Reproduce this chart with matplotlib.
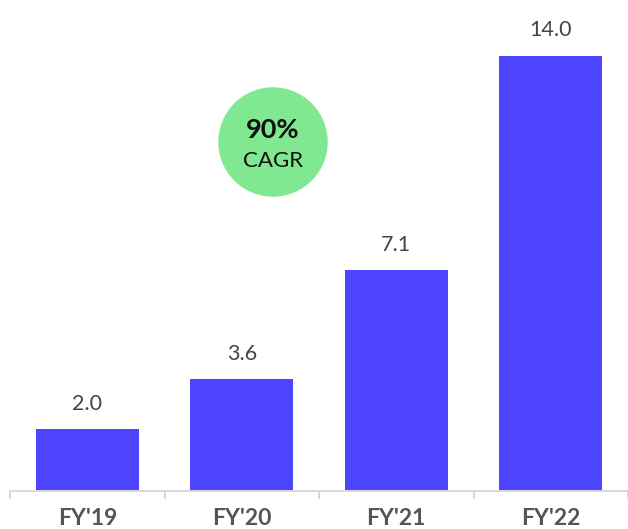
import numpy as np
import matplotlib.pyplot as plt
from matplotlib.patches import Ellipse

categories = ["FY'19", "FY'20", "FY'21", "FY'22"]
values = [2.0, 3.6, 7.1, 14.0]
cagr_value = "90%"
cagr_label = "CAGR"

plt.rcParams['font.family'] = ['Lato', 'DejaVu Sans']

fig = plt.figure(figsize=(6.28, 5.29), dpi=100)
W, H = 628, 529
# axes spans from x=10px to right edge, baseline at y=491px from top
ax = fig.add_axes([10 / W, 38 / H, 618 / W, 491 / H])

x = np.arange(len(categories))
bars = ax.bar(x, values, width=0.665, color='#4D44FF', zorder=2)

px_per_unit = 31.1
ax.set_ylim(0, 491 / px_per_unit)
ax.set_xlim(-0.5, 3.5 - 2 / 155)

for xi, v in zip(x, values):
    ax.annotate("{:.1f}".format(v), (xi, v), xytext=(0, 11), textcoords='offset points',
                ha='center', va='bottom', fontsize=15.5, color='#444444')

for s in ['top', 'right', 'left']:
    ax.spines[s].set_visible(False)
ax.spines['bottom'].set_color('#d9d9d9')
ax.spines['bottom'].set_linewidth(1.4)
ax.set_yticks([])

ax.set_xticks(np.arange(-0.5, 3.6, 1.0), minor=False)
ax.set_xticklabels([])
ax.tick_params(axis='x', length=6, width=1.4, color='#d9d9d9')
ax.set_xticks(x, minor=True)
ax.set_xticklabels(categories, minor=True, fontsize=16.5, fontweight='bold', color='#555555')
ax.tick_params(axis='x', which='minor', length=0, pad=12)

# CAGR bubble, drawn in pixel coordinates of the figure
circle = Ellipse((273 / W, 1 - 142 / H), 108 / W, 108 / H, transform=fig.transFigure,
                 color='#7FE890', zorder=3)
fig.patches.append(circle)
fig.text(273 / W, 1 - 130 / H, cagr_value, ha='center', va='center', fontsize=19.5,
         fontweight='bold', color='#111111')
fig.text(273 / W, 1 - 161 / H, cagr_label, ha='center', va='center', fontsize=16,
         color='#111111')

fig.savefig('out.png', dpi=100)
